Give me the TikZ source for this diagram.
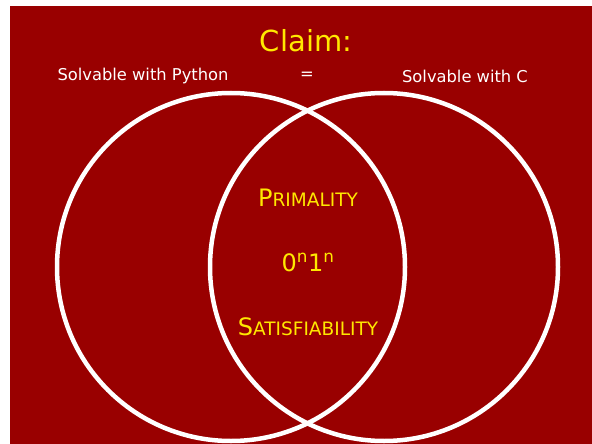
\documentclass[tikz,border=0pt]{standalone}
\usepackage{fontspec}
\setmainfont{DejaVu Sans}
\definecolor{slidered}{HTML}{990000}
\definecolor{claimyellow}{HTML}{FFE800}
\tikzset{
    setline/.style={draw=white, line width=4.5pt},
    toplabel/.style={text=white, font=\fontsize{16.3}{19}\selectfont},
    member/.style={text=claimyellow, font=\fontsize{24}{28}\selectfont}
}
\newcommand{\fakesc}[2]{#1{\fontsize{18.5}{22}\selectfont #2}}
\begin{document}
\begin{tikzpicture}[x=1pt, y=-1pt]
            \useasboundingbox (0,0) rectangle (592,444);
            \fill[white] (0,0) rectangle (592,444);
            \fill[slidered] (10,6) rectangle (592,444);

            \draw[setline] (231,267) circle (174);
            \draw[setline] (384,267) circle (174);

            \node[text=claimyellow, font=\fontsize{29}{34}\selectfont] (claim) at (306,41) {Claim:};
            \node[toplabel] (python) at (143,76) {Solvable with Python};
            \node[toplabel] (equals) at (307,76) {=};
            \node[toplabel] (clang) at (465,76) {Solvable with C};

            \node[member] (primality) at (308,198) {\fakesc{P}{RIMALITY}};
            \node[member] (lang) at (308,262) {0\textsuperscript{n}1\textsuperscript{n}};
            \node[member] (sat) at (308,327) {\fakesc{S}{ATISFIABILITY}};
        \end{tikzpicture}
\end{document}
